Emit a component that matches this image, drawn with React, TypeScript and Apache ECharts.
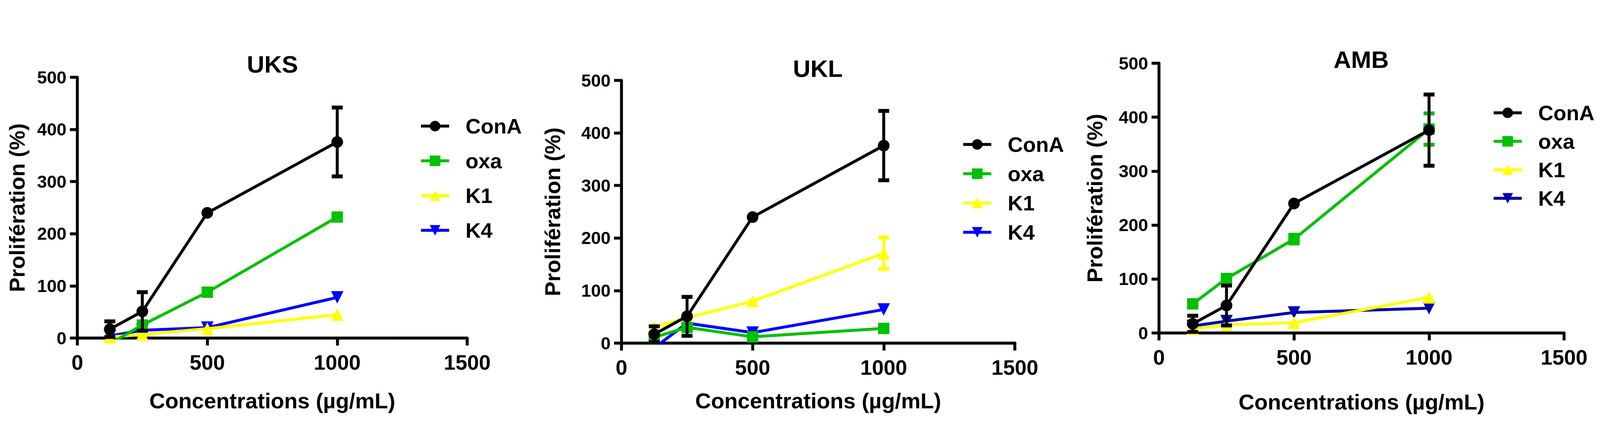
import React, { useEffect, useRef } from 'react';
import * as echarts from 'echarts';

// ---------- data ----------
const concentrations = [125, 250, 500, 1000];
const panelTitles = ['UKS', 'UKL', 'AMB'];
const seriesNames = ['ConA', 'oxa', 'K1', 'K4'];
const xTicks = [0, 500, 1000, 1500];
const yTicks = [0, 100, 200, 300, 400, 500];

const conA = [17, 51, 240, 376];
const conAErr = [15, 37, 0, 66];

const uksOxa = [-11, 25, 88, 232];
const uksK1 = [2, 7, 18, 45];
const uksK4 = [4, 15, 20, 78];

const uklOxa = [11, 30, 12, 28];
const uklK1 = [31, 48, 80, 171];
const uklK1Err = [0, 0, 0, 30];
const uklK4 = [-9, 38, 20, 64];

const ambOxa = [54, 101, 174, 378];
const ambOxaErr = [0, 0, 8, 29];
const ambK1 = [8, 15, 19, 66];
const ambK4 = [13, 22, 38, 46];

const noErr = [0, 0, 0, 0];

// per panel: values and errors in the order of seriesNames
const panelValues = [
  [conA, uksOxa, uksK1, uksK4],
  [conA, uklOxa, uklK1, uklK4],
  [conA, ambOxa, ambK1, ambK4],
];
const panelErrors = [
  [conAErr, noErr, noErr, noErr],
  [conAErr, noErr, uklK1Err, noErr],
  [conAErr, ambOxaErr, noErr, noErr],
];

// ---------- styles / layout ----------
const FONT = "'Liberation Sans', Arial, Helvetica, sans-serif";
const baseColors = ['#000000', '#00C000', '#FFFF00', '#0000FF'];
const panelK4Colors = ['#0000FF', '#0000FF', '#0000B0'];
const symbols = ['circle', 'rect', 'triangle', 'triangle'];
const symbolRotates = [0, 0, 0, 180];
const symbolSizes = [30, 29, 32, 32];
const seriesZ = [8, 6, 4, 2];
const LINE_W = 7.5;

const layouts = [
  { left: 198, top: 198, width: 998, height: 668, titleLeft: 632, titleTop: 133, legendLeft: 1074, legendTop: 296, legendGap: 35, xNameGap: 132, yNameGap: 127 },
  { left: 1591, top: 206, width: 1007, height: 673, titleLeft: 2030, titleTop: 144, legendLeft: 2462, legendTop: 343, legendGap: 21, xNameGap: 119, yNameGap: 149 },
  { left: 2967, top: 162, width: 1037, height: 691, titleLeft: 3414, titleTop: 121, legendLeft: 3820, legendTop: 262, legendGap: 19, xNameGap: 148, yNameGap: 137 },
];

function buildOption() {
  const grid: any[] = [];
  const xAxis: any[] = [];
  const yAxis: any[] = [];
  const title: any[] = [];
  const legend: any[] = [];
  const series: any[] = [];

  panelTitles.forEach((pt, i) => {
    const L = layouts[i];
    grid.push({ left: L.left, top: L.top, width: L.width, height: L.height, containLabel: false, outerBoundsMode: 'none' });
    const axisCommon = {
      gridIndex: i,
      type: 'value',
      axisLine: { show: true, onZero: false, lineStyle: { color: '#000', width: LINE_W } },
      axisTick: { show: true, inside: false, length: 19, lineStyle: { color: '#000', width: LINE_W } },
      splitLine: { show: false },
      nameLocation: 'middle',
      nameMoveOverlap: false,
      nameTextStyle: { fontSize: 56, fontWeight: 'bold', fontFamily: FONT, color: '#000' },
    };
    xAxis.push({
      ...axisCommon,
      min: xTicks[0],
      max: xTicks[xTicks.length - 1],
      interval: xTicks[1] - xTicks[0],
      axisLabel: { fontSize: 54, fontWeight: 'bold', fontFamily: FONT, color: '#000', margin: 35, formatter: (v: number) => String(v) },
      name: 'Concentrations (µg/mL)',
      nameGap: L.xNameGap,
    });
    yAxis.push({
      ...axisCommon,
      min: yTicks[0],
      max: yTicks[yTicks.length - 1],
      interval: yTicks[1] - yTicks[0],
      axisLabel: { fontSize: 45, fontWeight: 'bold', fontFamily: FONT, color: '#000', margin: 28, formatter: (v: number) => String(v) },
      name: 'Prolifération (%)',
      nameRotate: 90,
      nameGap: L.yNameGap,
    });
    title.push({
      text: pt,
      left: L.titleLeft,
      top: L.titleTop,
      padding: 0,
      textStyle: { fontSize: 62, fontWeight: 'bold', fontFamily: FONT, color: '#000' },
    });
    legend.push({
      orient: 'vertical',
      left: L.legendLeft,
      top: L.legendTop,
      padding: 0,
      itemWidth: 72,
      itemHeight: 34,
      itemGap: L.legendGap,
      selectedMode: false,
      data: seriesNames.map((n) => `${n}#${i}`),
      formatter: (name: string) => name.split('#')[0],
      lineStyle: { width: LINE_W },
      textStyle: { fontSize: 54, fontWeight: 'bold', fontFamily: FONT, color: '#000', lineHeight: 54, padding: [0, 0, 0, 37] },
    });

    seriesNames.forEach((n, s) => {
      const color = s === 3 ? panelK4Colors[i] : baseColors[s];
      const vals = panelValues[i][s];
      const errs = panelErrors[i][s];
      series.push({
        type: 'line',
        name: `${n}#${i}`,
        xAxisIndex: i,
        yAxisIndex: i,
        data: concentrations.map((c, k) => [c, vals[k]]),
        symbol: symbols[s],
        symbolSize: symbolSizes[s],
        symbolRotate: symbolRotates[s],
        showAllSymbol: true,
        clip: true,
        lineStyle: { color, width: LINE_W },
        itemStyle: { color, borderWidth: 0 },
        z: seriesZ[s],
        emphasis: { disabled: true },
      });
      const errData = concentrations
        .map((c, k) => [c, vals[k] - errs[k], vals[k] + errs[k], errs[k]])
        .filter((d) => d[3] > 0);
      if (errData.length) {
        series.push({
          type: 'custom',
          name: `err ${n}#${i}`,
          xAxisIndex: i,
          yAxisIndex: i,
          data: errData,
          encode: { x: 0, y: [1, 2] },
          z: seriesZ[s] + 1,
          silent: true,
          renderItem: (params: any, api: any) => {
            const x = api.value(0);
            const lo = api.value(1);
            const hi = api.value(2);
            const p1 = api.coord([x, hi]);
            const p2 = api.coord([x, lo]);
            const hw = 14;
            const stem = { stroke: color, lineWidth: LINE_W };
            const cap = { stroke: color, lineWidth: 10 };
            return {
              type: 'group',
              children: [
                { type: 'line', shape: { x1: p1[0], y1: p1[1], x2: p2[0], y2: p2[1] }, style: stem },
                { type: 'line', shape: { x1: p1[0] - hw, y1: p1[1], x2: p1[0] + hw, y2: p1[1] }, style: cap },
                { type: 'line', shape: { x1: p2[0] - hw, y1: p2[1], x2: p2[0] + hw, y2: p2[1] }, style: cap },
              ],
            };
          },
        });
      }
    });
  });

  return {
    animation: false,
    backgroundColor: '#ffffff',
    textStyle: { fontFamily: FONT },
    grid,
    xAxis,
    yAxis,
    title,
    legend,
    series,
  };
}

export default function App() {
  const ref = useRef<HTMLDivElement>(null);
  useEffect(() => {
    document.body.style.margin = '0';
    const chart = echarts.init(ref.current as HTMLDivElement, null, { renderer: 'svg' });
    chart.setOption(buildOption() as any);
    return () => chart.dispose();
  }, []);
  return <div ref={ref} style={{ width: 4107, height: 1122 }} />;
}
